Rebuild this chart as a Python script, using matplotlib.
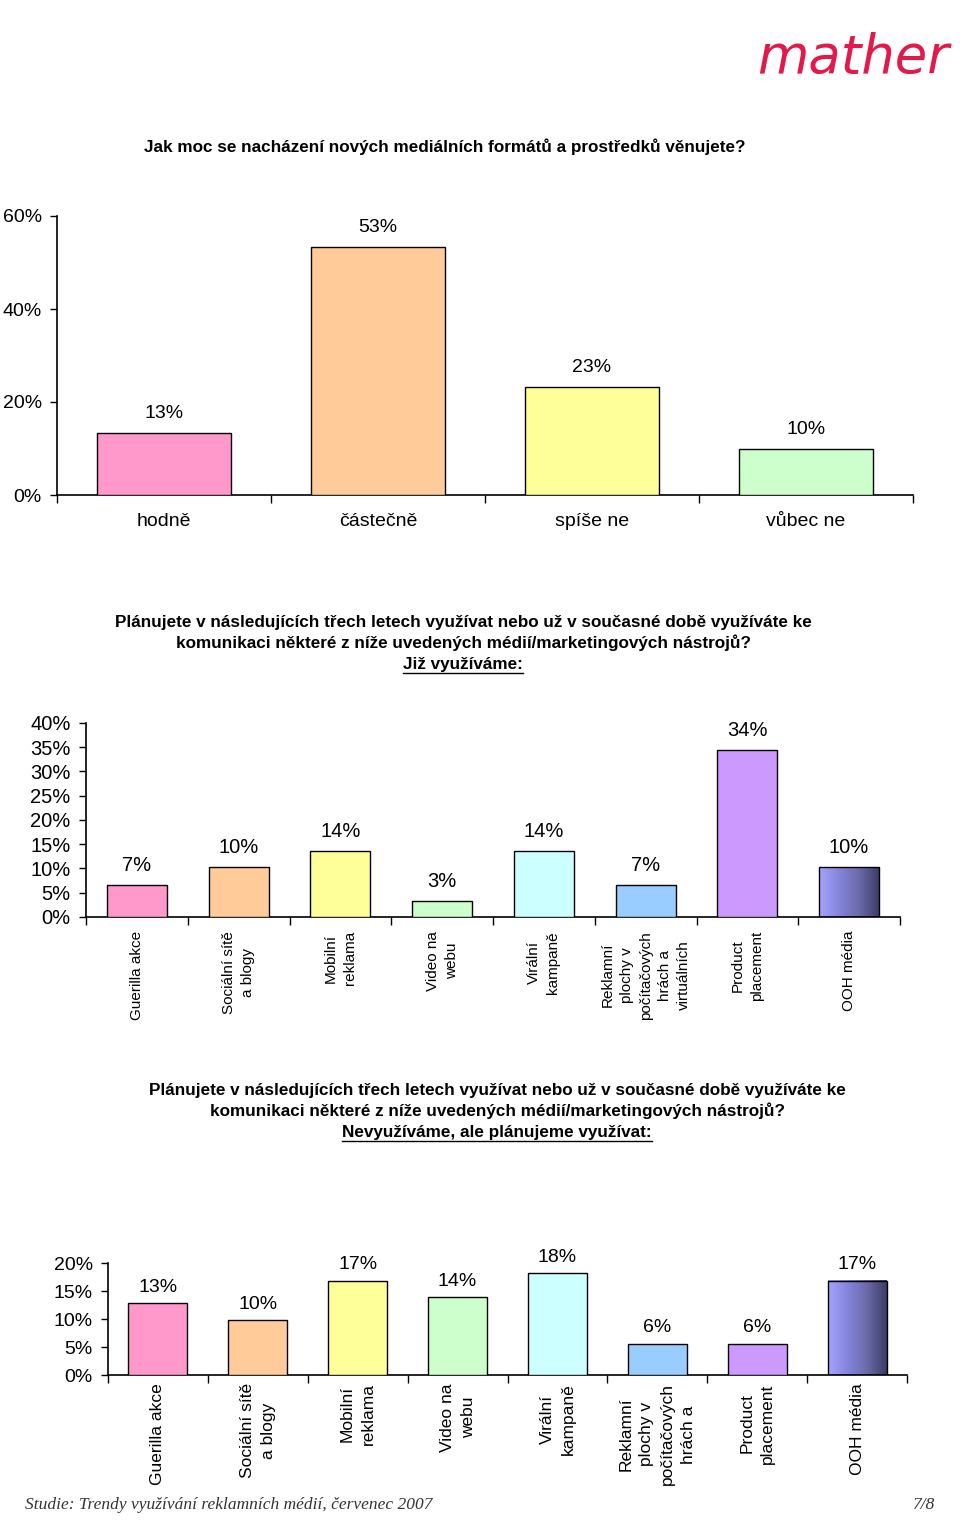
import numpy as np
import matplotlib
matplotlib.use("Agg")
import matplotlib.pyplot as plt
from matplotlib.colors import LinearSegmentedColormap
from matplotlib.lines import Line2D

plt.rcParams['font.family'] = ['Liberation Sans', 'DejaVu Sans']

# --- data ---
q1_title = "Jak moc se nacházení nových mediálních formátů a prostředků věnujete?"
q1_cats = ["hodně", "částečně", "spíše ne", "vůbec ne"]
q1_vals = [13.3, 53.3, 23.3, 9.8]
q1_colors = ["#ff99cc", "#ffcc99", "#ffff99", "#ccffcc"]

q_lines = ["Plánujete v následujících třech letech využívat nebo už v současné době využíváte ke",
           "komunikaci některé z níže uvedených médií/marketingových nástrojů?"]
q2_sub = "Již využíváme:"
q3_sub = "Nevyužíváme, ale plánujeme využívat:"

q2_cats = ["Guerilla akce", "Sociální sítě\na blogy", "Mobilní\nreklama", "Video na\nwebu",
           "Virální\nkampaně", "Reklamní\nplochy v\npočítačových\nhrách a\nvirtuálních",
           "Product\nplacement", "OOH média"]
q2_vals = [6.6, 10.3, 13.6, 3.4, 13.6, 6.6, 34.4, 10.3]

q3_cats = ["Guerilla akce", "Sociální sítě\na blogy", "Mobilní\nreklama", "Video na\nwebu",
           "Virální\nkampaně", "Reklamní\nplochy v\npočítačových\nhrách a",
           "Product\nplacement", "OOH média"]
q3_vals = [12.8, 9.8, 16.8, 13.9, 18.2, 5.6, 5.6, 16.8]

media_colors = ["#ff99cc", "#ffcc99", "#ffff99", "#ccffcc", "#ccffff", "#99ccff", "#cc99ff", None]

source = "Studie: Trendy využívání reklamních médií, červenec 2007"
page = "7/8"

W, H = 960, 1520
fig = plt.figure(figsize=(W / 100, H / 100), dpi=100)

ooh_cmap = LinearSegmentedColormap.from_list("ooh", ["#a4a4ff", "#8484dc", "#6a6aa8", "#3c3c66"])


def px(x0, y0, x1, y1):
    # pixel box -> figure fraction rect
    return [x0 / W, 1 - y1 / H, (x1 - x0) / W, (y1 - y0) / H]


def bars(ax, vals, colors, cats, ymax, ystep, width, off, vsize, tsize, csize, rot, cpad, lsp=1.2):
    n = len(vals)
    x = np.arange(n)
    for i, v in enumerate(vals):
        c = colors[i]
        if c is None:
            ax.imshow(np.linspace(0, 1, 64)[None, :], cmap=ooh_cmap, aspect='auto',
                      extent=[i - width / 2, i + width / 2, 0, v], zorder=2)
            ax.bar(i, v, width, facecolor='none', edgecolor='black', linewidth=1, zorder=3)
        else:
            ax.bar(i, v, width, color=c, edgecolor='black', linewidth=1, zorder=3)
        ax.annotate(f"{v:.0f}%", (i, v), xytext=(0, off), textcoords='offset points',
                    ha='center', va='center', fontsize=vsize)
    ax.set_xlim(-0.5, n - 0.5)
    ax.set_ylim(0, ymax)
    ax.set_yticks(np.arange(0, ymax + 0.1, ystep))
    ax.set_yticklabels([f"{t:.0f}%" for t in np.arange(0, ymax + 0.1, ystep)], fontsize=tsize)
    ax.set_xticks(x)
    if rot:
        ax.set_xticklabels(cats, rotation=90, va='top', ha='center',
                           multialignment='center', fontsize=csize, linespacing=lsp)
    else:
        ax.set_xticklabels(cats, fontsize=csize)
    ax.set_xticks(np.arange(n + 1) - 0.5, minor=True)
    ax.tick_params(axis='x', which='major', length=0, pad=cpad)
    ax.tick_params(axis='x', which='minor', length=6, width=1)
    ax.tick_params(axis='y', length=5, width=1, pad=6)
    for s in ['top', 'right']:
        ax.spines[s].set_visible(False)
    for s in ['left', 'bottom']:
        ax.spines[s].set_linewidth(1.2)
    ax.set_facecolor('none')


# chart 1
ax1 = fig.add_axes(px(57, 216, 913, 495))
bars(ax1, q1_vals, q1_colors, q1_cats, 60, 20, 0.63, 14, 14, 14, 14, False, 13)

# chart 2
ax2 = fig.add_axes(px(86, 723, 900, 917))
bars(ax2, q2_vals, media_colors, q2_cats, 40, 5, 0.59, 14, 14.5, 14.5, 11, True, 10, 1.45)

# chart 3
ax3 = fig.add_axes(px(108, 1263, 907, 1375))
bars(ax3, q3_vals, media_colors, q3_cats, 20, 5, 0.59, 11.5, 14, 14, 12.5, True, 6, 1.5)

# titles
tk = dict(ha='center', va='center', fontsize=12.3, fontweight='bold')
fig.text(445 / W, 1 - 147 / H, q1_title, **tk)
fig.text(463 / W, 1 - 623 / H, q_lines[0], **tk)
fig.text(463 / W, 1 - 643 / H, q_lines[1], **tk)
s2 = fig.text(463 / W, 1 - 664 / H, q2_sub, **tk)
fig.text(497 / W, 1 - 1091 / H, q_lines[0], **tk)
fig.text(497 / W, 1 - 1111 / H, q_lines[1], **tk)
s3 = fig.text(497 / W, 1 - 1132 / H, q3_sub, **tk)

# logo
fig.text(853 / W, 1 - 58 / H, "mather", ha='center', va='center', fontsize=38,
         color='#e3194b', family='DejaVu Sans', style='italic')

# footer
fig.text(25 / W, 1 - 1505 / H, source, ha='left', va='center', fontsize=12.5,
         family='Liberation Serif', style='italic', color='#333333')
fig.text(935 / W, 1 - 1505 / H, page, ha='right', va='center', fontsize=12.5,
         family='Liberation Serif', style='italic', color='#333333')

# underline the two sub-headings
fig.canvas.draw()
r = fig.canvas.get_renderer()
for t in (s2, s3):
    bb = t.get_window_extent(r)
    y = (bb.y0 - 1) / H
    fig.add_artist(Line2D([bb.x0 / W, bb.x1 / W], [y, y], color='black', linewidth=1))

fig.savefig("out.png", dpi=100, facecolor='white')
